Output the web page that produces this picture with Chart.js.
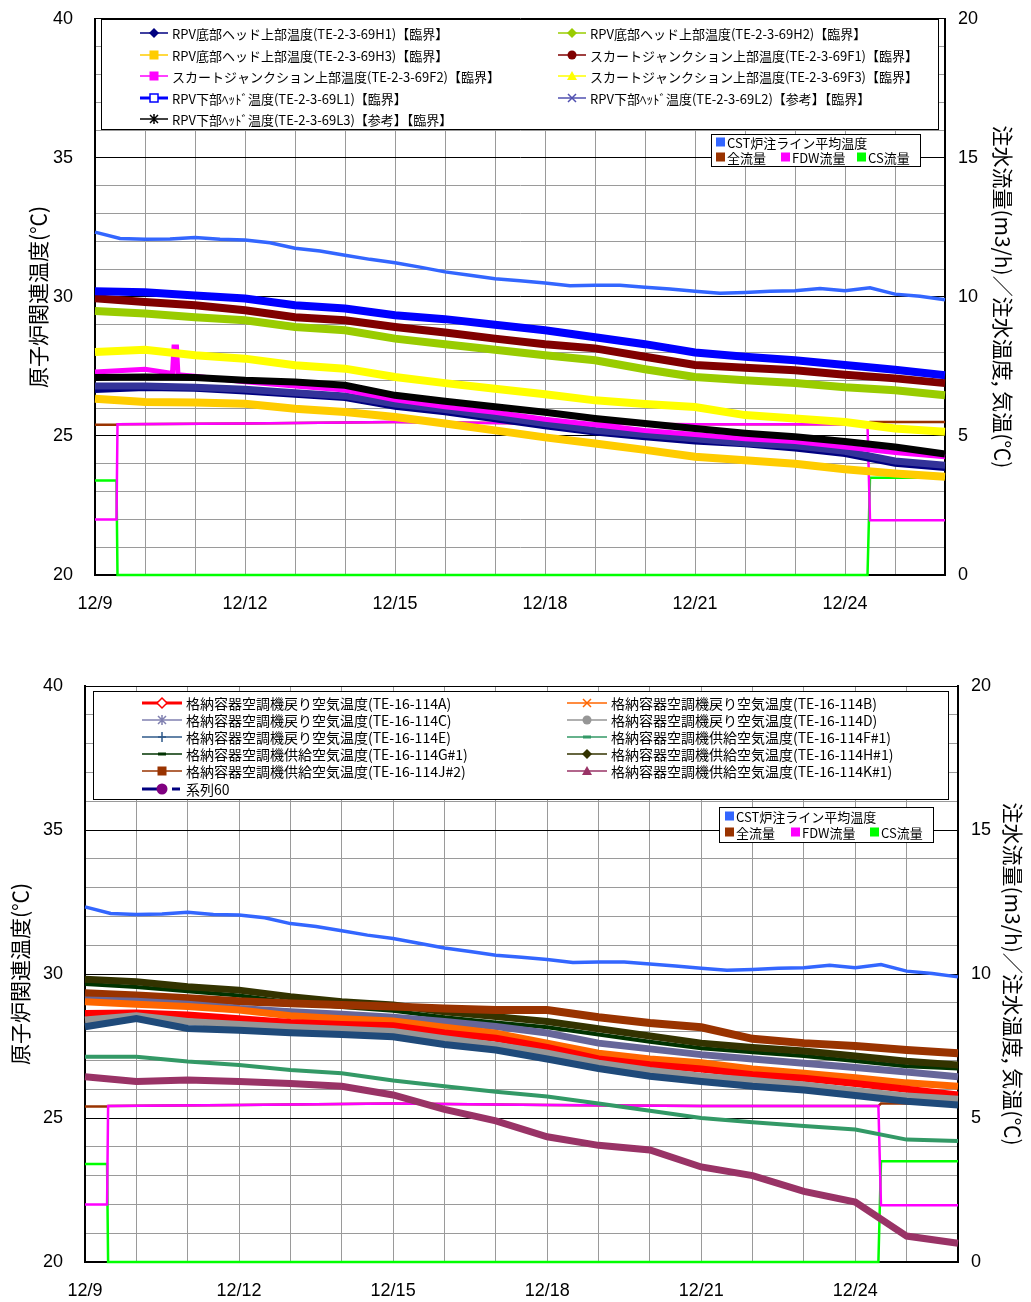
<!DOCTYPE html>
<html>
<head>
<meta charset="utf-8">
<script src="https://cdn.jsdelivr.net/npm/chart.js@4.4.0/dist/chart.umd.min.js"></script>
<style>
  body { margin: 0; background: #fff; width: 1031px; height: 1302px; position: relative; overflow: hidden; }
  #topChart { position: absolute; left: 0; top: -14px; }
  #bottomChart { position: absolute; left: 0; top: 640px; }
</style>
</head>
<body>
<canvas id="topChart" width="1031" height="644"></canvas>
<canvas id="bottomChart" width="1031" height="662"></canvas>
<script>
// ---- data (days since 12/9) ----
const tickLabels = ['12/9', '12/12', '12/15', '12/18', '12/21', '12/24'];
const days = [0, 1, 2, 3, 4, 5, 6, 7, 8, 9, 10, 11, 12, 13, 14, 15, 16, 17];
const cstDays = [0, 0.5, 1, 1.5, 2, 2.5, 3, 3.5, 4, 4.5, 5, 5.5, 6, 6.5, 7, 7.5, 8, 8.5, 9, 9.5,
  10, 10.5, 11, 11.5, 12, 12.5, 13, 13.5, 14, 14.5, 15, 15.5, 16, 16.5, 17];
const cstTemp = [32.33, 32.1, 32.07, 32.08, 32.14, 32.07, 32.05, 31.95, 31.75, 31.65, 31.5, 31.35, 31.23, 31.07,
  30.9, 30.78, 30.65, 30.58, 30.5, 30.4, 30.42, 30.42, 30.35, 30.28, 30.2, 30.13, 30.16, 30.2, 30.22, 30.3,
  30.22, 30.33, 30.1, 30.02, 29.9];

// flows (right axis, m3/h)
const flowDays = [0, 0.43, 0.45, 3, 6, 9, 12, 15.45, 15.5, 17];
const fdwFlow = [2.0, 2.0, 5.42, 5.45, 5.5, 5.45, 5.42, 5.42, 1.97, 1.97];
const csFlow = [3.4, 3.4, 0, 0, 0, 0, 0, 0, 3.5, 3.5];
const totalFlow = [5.4, 5.4, 5.42, 5.45, 5.5, 5.45, 5.42, 5.42, 5.5, 5.5];

// top chart: RPV temperatures
const h1Temp = [26.65, 26.72, 26.7, 26.6, 26.48, 26.36, 26.05, 25.85, 25.6, 25.35, 25.12, 24.95, 24.8, 24.7, 24.55, 24.35, 24.0, 23.85];
const h2Temp = [29.49, 29.4, 29.27, 29.16, 28.92, 28.8, 28.5, 28.3, 28.1, 27.9, 27.72, 27.4, 27.12, 27.0, 26.9, 26.75, 26.64, 26.46];
const h3Temp = [26.34, 26.22, 26.2, 26.16, 25.98, 25.86, 25.68, 25.45, 25.2, 24.95, 24.73, 24.5, 24.25, 24.13, 24.0, 23.8, 23.65, 23.53];
const f1Temp = [29.95, 29.82, 29.7, 29.52, 29.27, 29.16, 28.92, 28.72, 28.5, 28.3, 28.15, 27.85, 27.55, 27.45, 27.36, 27.2, 27.07, 26.9];
const f2Days = [0, 1, 1.55, 1.58, 1.63, 1.66, 2, 3, 4, 5, 6, 7, 8, 9, 10, 11, 12, 13, 14, 15, 16, 17];
const f2Temp = [27.3, 27.4, 27.25, 28.2, 28.2, 27.2, 27.15, 26.95, 26.8, 26.65, 26.3, 26.05, 25.85, 25.6, 25.4, 25.2, 25.05, 24.9, 24.8, 24.6, 24.4, 24.25];
const f3Temp = [28.02, 28.1, 27.9, 27.78, 27.54, 27.42, 27.12, 26.9, 26.7, 26.5, 26.28, 26.15, 26.04, 25.75, 25.63, 25.5, 25.27, 25.15];
const l1Temp = [30.2, 30.17, 30.05, 29.94, 29.7, 29.58, 29.34, 29.2, 29.0, 28.8, 28.55, 28.3, 28.0, 27.85, 27.72, 27.55, 27.38, 27.18];
const l2Temp = [26.8, 26.8, 26.75, 26.68, 26.55, 26.44, 26.15, 25.95, 25.7, 25.45, 25.2, 25.05, 24.9, 24.75, 24.65, 24.45, 24.1, 23.95];
const l3Temp = [27.1, 27.12, 27.1, 27.0, 26.94, 26.82, 26.46, 26.25, 26.05, 25.85, 25.63, 25.45, 25.27, 25.1, 24.97, 24.8, 24.6, 24.35];

// bottom chart: containment air temperatures
const aTemp = [28.63, 28.65, 28.58, 28.45, 28.32, 28.25, 28.2, 27.95, 27.77, 27.45, 27.05, 26.85, 26.7, 26.5, 26.38, 26.2, 26.0, 25.8];
const bTemp = [29.04, 28.95, 28.87, 28.75, 28.55, 28.45, 28.37, 28.15, 27.94, 27.6, 27.25, 27.05, 26.92, 26.7, 26.55, 26.4, 26.22, 26.1];
const cTemp = [29.1, 29.05, 28.95, 28.8, 28.69, 28.6, 28.5, 28.35, 28.18, 27.95, 27.6, 27.4, 27.2, 27.05, 26.9, 26.75, 26.6, 26.43];
const dTemp = [28.4, 28.55, 28.35, 28.25, 28.15, 28.08, 28.0, 27.75, 27.53, 27.25, 26.9, 26.65, 26.45, 26.3, 26.15, 25.95, 25.76, 25.65];
const eTemp = [28.17, 28.45, 28.11, 28.05, 27.96, 27.9, 27.82, 27.55, 27.36, 27.05, 26.72, 26.45, 26.27, 26.1, 25.97, 25.78, 25.58, 25.45];
const fTemp = [27.13, 27.13, 26.96, 26.84, 26.67, 26.55, 26.3, 26.1, 25.91, 25.75, 25.5, 25.25, 25.0, 24.85, 24.72, 24.6, 24.25, 24.2];
const gTemp = [29.65, 29.55, 29.4, 29.25, 29.02, 28.85, 28.72, 28.5, 28.32, 28.15, 27.9, 27.65, 27.42, 27.28, 27.15, 26.98, 26.8, 26.72];
const hTemp = [29.82, 29.73, 29.56, 29.44, 29.21, 29.04, 28.92, 28.69, 28.52, 28.35, 28.1, 27.85, 27.6, 27.45, 27.33, 27.15, 26.97, 26.84];
const jTemp = [29.33, 29.25, 29.16, 29.05, 28.98, 28.92, 28.87, 28.8, 28.75, 28.75, 28.5, 28.3, 28.15, 27.75, 27.6, 27.5, 27.36, 27.25];
const kTemp = [26.43, 26.27, 26.32, 26.27, 26.2, 26.1, 25.8, 25.3, 24.9, 24.35, 24.05, 23.89, 23.3, 23.0, 22.45, 22.08, 20.9, 20.65];

// ---- helpers ----
const FONT = '"Liberation Sans", Arial, sans-serif';
const JFONT = '"Noto Sans CJK JP", sans-serif';

function pts(xs, ys) {
  return xs.map((x, i) => ({ x: x, y: ys[i] }));
}

function line(label, xs, ys, color, width, axis) {
  return {
    label: label,
    data: pts(xs, ys),
    borderColor: color,
    backgroundColor: color,
    borderWidth: width,
    pointRadius: 0,
    tension: 0,
    yAxisID: axis || 'y',
    clip: false
  };
}

function drawMarker(ctx, style, x, y, color) {
  ctx.save();
  ctx.fillStyle = color;
  ctx.strokeStyle = color;
  ctx.lineWidth = 1.5;
  ctx.beginPath();
  if (style === 'diamond') {
    ctx.moveTo(x, y - 5); ctx.lineTo(x + 5, y); ctx.lineTo(x, y + 5); ctx.lineTo(x - 5, y); ctx.closePath(); ctx.fill();
  } else if (style === 'diamondOpen') {
    ctx.moveTo(x, y - 5); ctx.lineTo(x + 5, y); ctx.lineTo(x, y + 5); ctx.lineTo(x - 5, y); ctx.closePath();
    ctx.fillStyle = '#fff'; ctx.fill(); ctx.stroke();
  } else if (style === 'rect') {
    ctx.fillRect(x - 4.5, y - 4.5, 9, 9);
  } else if (style === 'rectOpen') {
    ctx.fillStyle = '#fff'; ctx.fillRect(x - 4, y - 4, 8, 8); ctx.strokeRect(x - 4, y - 4, 8, 8);
  } else if (style === 'circle') {
    ctx.arc(x, y, 4.5, 0, Math.PI * 2); ctx.fill();
  } else if (style === 'bigCircle') {
    ctx.arc(x, y, 5.5, 0, Math.PI * 2); ctx.fill();
  } else if (style === 'triangle') {
    ctx.moveTo(x, y - 5); ctx.lineTo(x + 5, y + 4); ctx.lineTo(x - 5, y + 4); ctx.closePath(); ctx.fill();
  } else if (style === 'cross') {
    ctx.moveTo(x - 4, y); ctx.lineTo(x + 4, y); ctx.moveTo(x, y - 5); ctx.lineTo(x, y + 5); ctx.stroke();
  } else if (style === 'crossRot') {
    ctx.moveTo(x - 4, y - 4); ctx.lineTo(x + 4, y + 4); ctx.moveTo(x + 4, y - 4); ctx.lineTo(x - 4, y + 4); ctx.stroke();
  } else if (style === 'star') {
    ctx.moveTo(x - 4, y - 4); ctx.lineTo(x + 4, y + 4); ctx.moveTo(x + 4, y - 4); ctx.lineTo(x - 4, y + 4);
    ctx.moveTo(x, y - 5); ctx.lineTo(x, y + 5); ctx.stroke();
  } else if (style === 'dash') {
    ctx.fillRect(x - 4, y - 1.5, 8, 3);
  }
  ctx.restore();
}

// draws the boxed legends inside the plot area (positions given in page pixels)
const boxLegend = {
  id: 'boxLegend',
  afterDraw(chart) {
    const cfg = chart.options.plugins.boxLegend;
    if (!cfg) return;
    const ctx = chart.ctx;
    ctx.save();
    ctx.translate(0, -cfg.pageTop);
    cfg.boxes.forEach(box => {
      ctx.fillStyle = '#fff';
      ctx.fillRect(box.x, box.y, box.w, box.h);
      ctx.strokeStyle = '#000';
      ctx.lineWidth = 1;
      ctx.strokeRect(box.x + 0.5, box.y + 0.5, box.w, box.h);
      ctx.font = box.font;
      ctx.textBaseline = 'middle';
      box.items.forEach(it => {
        if (it.square) {
          ctx.fillStyle = it.color;
          ctx.fillRect(it.x, it.y - 4.5, 9, 9);
          ctx.fillStyle = '#000';
          ctx.fillText(it.label, it.x + 11, it.y + 1);
          return;
        }
        ctx.save();
        ctx.strokeStyle = it.color;
        ctx.lineWidth = it.lw || 1.5;
        if (it.dash) ctx.setLineDash(it.dash);
        ctx.beginPath();
        ctx.moveTo(it.x, it.y);
        ctx.lineTo(it.x + box.sym, it.y);
        ctx.stroke();
        ctx.restore();
        drawMarker(ctx, it.marker, it.x + box.sym / 2, it.y, it.markerColor || it.color);
        ctx.fillStyle = '#000';
        ctx.fillText(it.label, it.x + box.sym + 4, it.y + 1);
      });
    });
    ctx.restore();
  }
};

function scalesFor(leftW, rightW, xH, leftPad, rightPad) {
  return {
    x: {
      type: 'linear', min: 0, max: 17,
      afterFit(s) { s.height = xH; },
      border: { color: '#000', width: 1.5 },
      grid: { color: '#9a9a9a', drawTicks: false },
      ticks: {
        stepSize: 1, autoSkip: false, maxRotation: 0, padding: 18,
        color: '#000', font: { family: FONT, size: 18 },
        callback: v => (v % 3 === 0 ? tickLabels[v / 3] : '')
      }
    },
    y: {
      position: 'left', min: 20, max: 40,
      afterFit(s) { s.width = leftW; },
      border: { color: '#000', width: 2 },
      grid: {
        drawTicks: false,
        color: c => (c.tick.value % 5 === 0 ? '#000' : '#9a9a9a')
      },
      ticks: {
        stepSize: 1, autoSkip: false, padding: 22,
        color: '#000', font: { family: FONT, size: 18 },
        callback: v => (v % 5 === 0 ? v : '')
      },
      title: {
        display: true, text: '原子炉関連温度(℃)', color: '#000',
        font: { family: JFONT, size: 21 }, padding: { top: leftPad, bottom: 0 }
      }
    },
    y2: {
      position: 'right', min: 0, max: 20,
      afterFit(s) { s.width = rightW; },
      border: { color: '#000', width: 2 },
      grid: { display: false, drawTicks: false },
      ticks: {
        stepSize: 5, padding: 13,
        color: '#000', font: { family: FONT, size: 18 }
      },
      title: {
        display: true, text: '注水流量(m3/h)／注水温度, 気温(℃)', color: '#000',
        font: { family: JFONT, size: 21 }, padding: { top: rightPad, bottom: 0 }
      }
    }
  };
}

const CST_COLOR = '#3366FF';
const TOTAL_COLOR = '#993300';
const FDW_COLOR = '#FF00FF';
const CS_COLOR = '#00FF00';

// ---- top chart ----
new Chart(document.getElementById('topChart'), {
  type: 'line',
  data: {
    datasets: [
      line('RPV下部ﾍｯﾄﾞ温度(TE-2-3-69L1)【臨界】', days, l1Temp, '#0000FF', 8),
      line('スカートジャンクション上部温度(TE-2-3-69F1)【臨界】', days, f1Temp, '#800000', 8),
      line('RPV底部ヘッド上部温度(TE-2-3-69H2)【臨界】', days, h2Temp, '#99CC00', 8),
      line('スカートジャンクション上部温度(TE-2-3-69F3)【臨界】', days, f3Temp, '#FFFF00', 8),
      line('RPV下部ﾍｯﾄﾞ温度(TE-2-3-69L3)【参考】【臨界】', days, l3Temp, '#000000', 7),
      line('スカートジャンクション上部温度(TE-2-3-69F2)【臨界】', f2Days, f2Temp, '#FF00FF', 5),
      line('RPV下部ﾍｯﾄﾞ温度(TE-2-3-69L2)【参考】【臨界】', days, l2Temp, '#333399', 7),
      line('RPV底部ヘッド上部温度(TE-2-3-69H1)【臨界】', days, h1Temp, '#000080', 6),
      line('RPV底部ヘッド上部温度(TE-2-3-69H3)【臨界】', days, h3Temp, '#FFCC00', 8),
      line('CST炉注ライン平均温度', cstDays, cstTemp, CST_COLOR, 3.5),
      line('FDW流量', flowDays, fdwFlow, FDW_COLOR, 2.5, 'y2'),
      line('全流量', flowDays, totalFlow, TOTAL_COLOR, 2.5, 'y2'),
      line('CS流量', flowDays, csFlow, CS_COLOR, 2.5, 'y2')
    ]
  },
  options: {
    responsive: false,
    animation: false,
    layout: { padding: { top: 18, left: 0, right: 0, bottom: 0 } },
    scales: scalesFor(95, 86, 55, 25, 15),
    plugins: {
      legend: { display: false },
      tooltip: { enabled: false },
      boxLegend: {
        pageTop: -14,
        boxes: [
          {
            x: 101, y: 19, w: 837, h: 110, sym: 28, font: '13px ' + JFONT,
            items: [
              { x: 140, y: 33, color: '#000080', marker: 'diamond', label: 'RPV底部ヘッド上部温度(TE-2-3-69H1)【臨界】' },
              { x: 558, y: 33, color: '#99CC00', marker: 'diamond', label: 'RPV底部ヘッド上部温度(TE-2-3-69H2)【臨界】' },
              { x: 140, y: 55, color: '#FFCC00', marker: 'rect', label: 'RPV底部ヘッド上部温度(TE-2-3-69H3)【臨界】' },
              { x: 558, y: 55, color: '#800000', marker: 'circle', label: 'スカートジャンクション上部温度(TE-2-3-69F1)【臨界】' },
              { x: 140, y: 76, color: '#FF00FF', marker: 'rect', label: 'スカートジャンクション上部温度(TE-2-3-69F2)【臨界】' },
              { x: 558, y: 76, color: '#FFFF00', marker: 'triangle', label: 'スカートジャンクション上部温度(TE-2-3-69F3)【臨界】' },
              { x: 140, y: 98, color: '#0000FF', marker: 'rectOpen', lw: 3, label: 'RPV下部ﾍｯﾄﾞ温度(TE-2-3-69L1)【臨界】' },
              { x: 558, y: 98, color: '#5050B0', marker: 'crossRot', label: 'RPV下部ﾍｯﾄﾞ温度(TE-2-3-69L2)【参考】【臨界】' },
              { x: 140, y: 119, color: '#000000', marker: 'star', label: 'RPV下部ﾍｯﾄﾞ温度(TE-2-3-69L3)【参考】【臨界】' }
            ]
          },
          {
            x: 711, y: 134, w: 209, h: 32, sym: 0, font: '13px ' + JFONT,
            items: [
              { square: true, x: 716, y: 142, color: CST_COLOR, label: 'CST炉注ライン平均温度' },
              { square: true, x: 716, y: 157, color: TOTAL_COLOR, label: '全流量' },
              { square: true, x: 781, y: 157, color: FDW_COLOR, label: 'FDW流量' },
              { square: true, x: 857, y: 157, color: CS_COLOR, label: 'CS流量' }
            ]
          }
        ]
      }
    }
  },
  plugins: [boxLegend]
});

// ---- bottom chart ----
new Chart(document.getElementById('bottomChart'), {
  type: 'line',
  data: {
    datasets: [
      line('格納容器空調機供給空気温度(TE-16-114K#1)', days, kTemp, '#993366', 7),
      line('格納容器空調機供給空気温度(TE-16-114F#1)', days, fTemp, '#339966', 4),
      line('格納容器空調機戻り空気温度(TE-16-114E)', days, eTemp, '#1F4A7A', 7),
      line('格納容器空調機戻り空気温度(TE-16-114D)', days, dTemp, '#969696', 7),
      line('格納容器空調機戻り空気温度(TE-16-114A)', days, aTemp, '#FF0000', 7),
      line('格納容器空調機戻り空気温度(TE-16-114B)', days, bTemp, '#FF6600', 7),
      line('格納容器空調機戻り空気温度(TE-16-114C)', days, cTemp, '#666699', 7),
      line('格納容器空調機供給空気温度(TE-16-114J#2)', days, jTemp, '#993300', 8),
      line('格納容器空調機供給空気温度(TE-16-114H#1)', days, hTemp, '#333300', 7),
      line('格納容器空調機供給空気温度(TE-16-114G#1)', days, gTemp, '#003300', 4),
      line('CST炉注ライン平均温度', cstDays, cstTemp, CST_COLOR, 3.5),
      line('FDW流量', flowDays, fdwFlow, FDW_COLOR, 2.5, 'y2'),
      line('全流量', flowDays, totalFlow, TOTAL_COLOR, 2.5, 'y2'),
      line('CS流量', flowDays, csFlow, CS_COLOR, 2.5, 'y2')
    ]
  },
  options: {
    responsive: false,
    animation: false,
    layout: { padding: { top: 46, left: 0, right: 0, bottom: 0 } },
    scales: scalesFor(85, 73, 40, 7, 5),
    plugins: {
      legend: { display: false },
      tooltip: { enabled: false },
      boxLegend: {
        pageTop: 640,
        boxes: [
          {
            x: 93, y: 691, w: 855, h: 108, sym: 40, font: '14px ' + JFONT,
            items: [
              { x: 142, y: 703, color: '#FF0000', marker: 'diamondOpen', lw: 3, label: '格納容器空調機戻り空気温度(TE-16-114A)' },
              { x: 567, y: 703, color: '#FF6600', marker: 'crossRot', label: '格納容器空調機戻り空気温度(TE-16-114B)' },
              { x: 142, y: 720, color: '#8080B0', marker: 'star', label: '格納容器空調機戻り空気温度(TE-16-114C)' },
              { x: 567, y: 720, color: '#969696', marker: 'circle', label: '格納容器空調機戻り空気温度(TE-16-114D)' },
              { x: 142, y: 737, color: '#2F5A8A', marker: 'cross', label: '格納容器空調機戻り空気温度(TE-16-114E)' },
              { x: 567, y: 737, color: '#339966', marker: 'dash', label: '格納容器空調機供給空気温度(TE-16-114F#1)' },
              { x: 142, y: 754, color: '#003300', marker: 'dash', label: '格納容器空調機供給空気温度(TE-16-114G#1)' },
              { x: 567, y: 754, color: '#333300', marker: 'diamond', label: '格納容器空調機供給空気温度(TE-16-114H#1)' },
              { x: 142, y: 771, color: '#993300', marker: 'rect', label: '格納容器空調機供給空気温度(TE-16-114J#2)' },
              { x: 567, y: 771, color: '#993366', marker: 'triangle', label: '格納容器空調機供給空気温度(TE-16-114K#1)' },
              { x: 142, y: 789, color: '#000080', marker: 'bigCircle', markerColor: '#800080', lw: 3, dash: [24, 6, 8, 4], label: '系列60' }
            ]
          },
          {
            x: 719, y: 807, w: 214, h: 35, sym: 0, font: '13px ' + JFONT,
            items: [
              { square: true, x: 725, y: 816, color: CST_COLOR, label: 'CST炉注ライン平均温度' },
              { square: true, x: 725, y: 832, color: TOTAL_COLOR, label: '全流量' },
              { square: true, x: 791, y: 832, color: FDW_COLOR, label: 'FDW流量' },
              { square: true, x: 870, y: 832, color: CS_COLOR, label: 'CS流量' }
            ]
          }
        ]
      }
    }
  },
  plugins: [boxLegend]
});
</script>
</body>
</html>
